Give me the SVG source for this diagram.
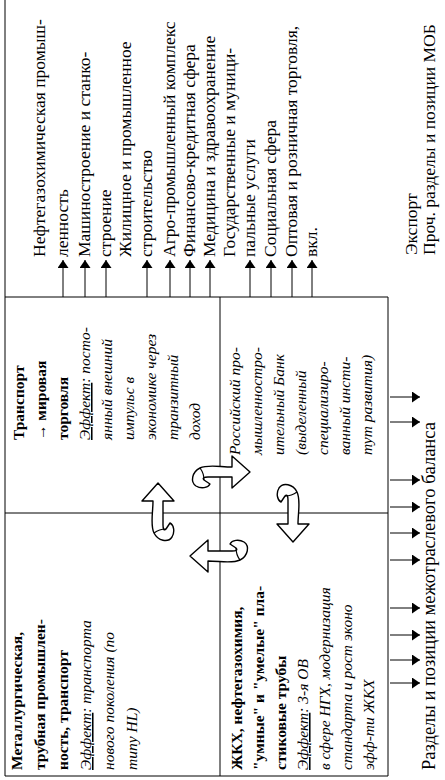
<svg xmlns="http://www.w3.org/2000/svg" width="445" height="780" viewBox="0 0 445 780">
<defs>
<marker id="ah" viewBox="0 0 10 10" refX="10" refY="5" markerWidth="8" markerHeight="11" markerUnits="userSpaceOnUse" orient="auto" preserveAspectRatio="none"><path d="M0,0 L10,5 L0,10 z" fill="#000"/></marker>
<g id="curl">
<path d="M62,0 L44,-16 L44,-5 C32,-5 20,-8 12,-4 C4,0 2,10 8,14 C13,17 20,16 22,12 L16,8 C14,6 16,5 20,5 L44,5 L44,16 Z" fill="#fff" stroke="#000" stroke-width="1.4" stroke-linejoin="round"/>
<path d="M12,-4 C15,0 16,4 16,8" fill="none" stroke="#000" stroke-width="1.2"/>
</g>
</defs>
<style>
.t{font-family:"Liberation Serif","Times New Roman",serif;font-size:17.5px;fill:#000}
.m{font-family:"Liberation Serif","Times New Roman",serif;font-size:18.5px;fill:#000}
.b{font-family:"Liberation Serif","Times New Roman",serif;font-size:15.5px;font-weight:bold;fill:#000}
.i{font-family:"Liberation Serif","Times New Roman",serif;font-size:15.5px;font-style:italic;fill:#000}
.ln{stroke:#000;stroke-width:1;fill:none}
.ar{stroke:#000;stroke-width:1;fill:none;marker-end:url(#ah)}
</style>
<rect width="445" height="780" fill="#fff"/>
<g id="frame">
<path class="ln" d="M5,0 V776 H388 V297 H5"/>
<path class="ln" d="M220,297 V776 M5,513 H388"/>
</g>
<g transform="rotate(-90) translate(-780 0)">
<g id="list">
<text class="t" x="523" y="45">Нефтегазохимическая промыш-</text>
<text class="t" x="523" y="68">ленность</text>
<text class="t" x="523" y="90">Машиностроение и станко-</text>
<text class="t" x="523" y="111">строение</text>
<text class="t" x="523" y="131">Жилищное и промышленное</text>
<text class="t" x="523" y="152">строительство</text>
<text class="t" x="523" y="175">Агро-промышленный комплекс</text>
<text class="t" x="523" y="195">Финансово-кредитная сфера</text>
<text class="t" x="523" y="215">Медицина и здравоохранение</text>
<text class="t" x="523" y="235">Государственные и муници-</text>
<text class="t" x="523" y="255">пальные услуги</text>
<text class="t" x="523" y="276">Социальная сфера</text>
<text class="t" x="523" y="297">Оптовая и розничная торговля,</text>
<text class="t" x="523" y="317">вкл.</text>
<text class="t" x="525" y="417">Экспорт</text>
<text class="t" x="525" y="435">Проч. разделы и позиции МОБ</text>
</g>
<g id="q-transport">
<text class="b" x="340" y="24">Транспорт</text>
<text class="b" x="340" y="46">→ мировая</text>
<text class="b" x="340" y="68">торговля</text>
<text class="i" x="340" y="90"><tspan text-decoration="underline">Эффект</tspan>: посто-</text>
<text class="i" x="340" y="112">янный внешний</text>
<text class="i" x="340" y="134">импульс в</text>
<text class="i" x="340" y="156">экономике через</text>
<text class="i" x="340" y="178">транзитный</text>
<text class="i" x="340" y="200">доход</text>
</g>
<g id="q-metal">
<text class="b" x="10" y="22">Металлургическая,</text>
<text class="b" x="10" y="45">трубная промышлен-</text>
<text class="b" x="10" y="68">ность, транспорт</text>
<text class="i" x="10" y="91"><tspan text-decoration="underline">Эффект</tspan>: транспорта</text>
<text class="i" x="10" y="114">нового поколения (по</text>
<text class="i" x="10" y="137">типу HL)</text>
</g>
<g id="q-bank">
<text class="i" x="325" y="240">Российский про-</text>
<text class="i" x="325" y="262">мышленностро-</text>
<text class="i" x="325" y="284">ительный Банк</text>
<text class="i" x="325" y="306">(выделенный</text>
<text class="i" x="325" y="328">специализиро-</text>
<text class="i" x="325" y="350">ванный инсти-</text>
<text class="i" x="325" y="372">тут развития)</text>
</g>
<g id="q-gkh">
<text class="b" x="10" y="242">ЖКХ, нефтегазохимия,</text>
<text class="b" x="10" y="264">"умные" и "умелые" пла-</text>
<text class="b" x="10" y="286">стиковые трубы</text>
<text class="i" x="10" y="308"><tspan text-decoration="underline">Эффект</tspan>: 3-я ОВ</text>
<text class="i" x="10" y="330">в сфере НГХ, модернизация</text>
<text class="i" x="10" y="352">стандарта и рост эконо</text>
<text class="i" x="10" y="374">эфф-ти ЖКХ</text>
</g>
<g id="mob">
<text class="m" x="10" y="435">Разделы и позиции межотраслевого баланса</text>
</g>
</g>
<g id="connectors">
<line class="ar" x1="63" y1="297" x2="63" y2="260"/>
<line class="ar" x1="85" y1="297" x2="85" y2="260"/>
<line class="ar" x1="106" y1="297" x2="106" y2="260"/>
<line class="ar" x1="147" y1="297" x2="147" y2="260"/>
<line class="ar" x1="170" y1="297" x2="170" y2="260"/>
<line class="ar" x1="190" y1="297" x2="190" y2="260"/>
<line class="ar" x1="210" y1="297" x2="210" y2="260"/>
<line class="ar" x1="250" y1="297" x2="250" y2="260"/>
<line class="ar" x1="271" y1="297" x2="271" y2="260"/>
<line class="ar" x1="292" y1="297" x2="292" y2="260"/>
<line class="ar" x1="312" y1="297" x2="312" y2="260"/>
<line class="ar" x1="390" y1="397" x2="420" y2="397"/>
<line class="ar" x1="390" y1="422" x2="420" y2="422"/>
<line class="ar" x1="390" y1="480" x2="420" y2="480"/>
<line class="ar" x1="390" y1="507" x2="420" y2="507"/>
<line class="ar" x1="390" y1="533" x2="420" y2="533"/>
<line class="ar" x1="390" y1="560" x2="420" y2="560"/>
<line class="ar" x1="390" y1="608" x2="420" y2="608"/>
<line class="ar" x1="390" y1="635" x2="420" y2="635"/>
<line class="ar" x1="390" y1="660" x2="420" y2="660"/>
<line class="ar" x1="390" y1="683" x2="420" y2="683"/>
</g>
<g id="cycle-arrows">
<use href="#curl" transform="translate(158,545) rotate(-90)"/>
<use href="#curl" transform="translate(188,472)"/>
<use href="#curl" transform="translate(293,480) rotate(90)"/>
<use href="#curl" transform="translate(252,556) rotate(180)"/>
</g>
</svg>
